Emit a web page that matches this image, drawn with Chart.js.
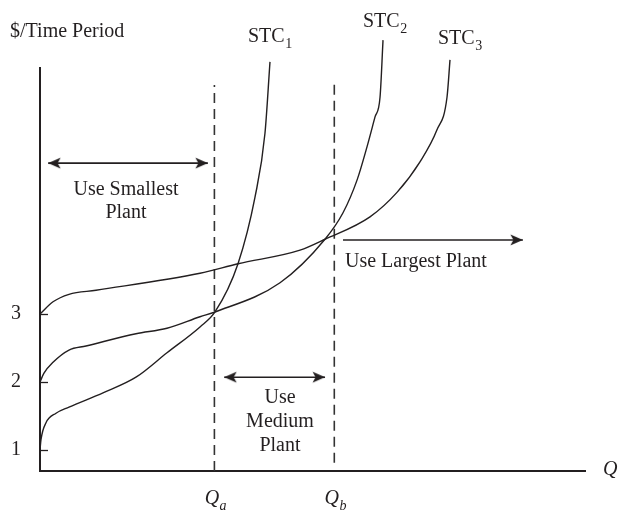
<!DOCTYPE html>
<html>
<head>
<meta charset="utf-8">
<script src="https://cdn.jsdelivr.net/npm/chart.js@4.4.1/dist/chart.umd.min.js"></script>
<style>
  html, body { margin: 0; padding: 0; background: #fff; }
  canvas { display: block; }
</style>
</head>
<body>
<canvas id="costChart" width="620" height="512"></canvas>
<script>
// short-run total cost curves (Q in arbitrary units, 0-100)
const stc1Q    = [0, 0.18, 1.10, 2.94, 5.32, 11.56, 17.61, 23.30, 29.36, 32.11, 36.33, 39.45, 41.28, 42.20];
const stc1Cost = [1.0, 1.15, 1.40, 1.54, 1.63, 1.84, 2.07, 2.43, 2.81, 3.03, 3.74, 4.72, 5.66, 6.71];

const stc2Q    = [0, 0.73, 2.39, 5.32, 8.44, 17.61, 23.30, 29.36, 32.11, 44.04, 52.29, 55.60, 58.17, 60.0, 61.47, 62.39, 62.94];
const stc2Cost = [2.0, 2.13, 2.29, 2.47, 2.53, 2.71, 2.79, 2.96, 3.03, 3.46, 4.10, 4.49, 4.97, 5.46, 5.90, 6.19, 7.03];

const stc3Q    = [0, 2.39, 5.32, 10.28, 29.36, 36.33, 47.71, 52.29, 60.55, 65.50, 69.72, 72.84, 74.68, 75.23];
const stc3Cost = [3.0, 3.18, 3.29, 3.35, 3.60, 3.74, 3.94, 4.10, 4.43, 4.79, 5.24, 5.71, 6.19, 6.74];

const costTicks = [1, 2, 3];

// switch points between plants
const qa = 32;
const qb = 54;
const qaCost = [0.69, 6.37];
const qbCost = [0.81, 6.44];

// "use ... plant" range arrows: [from Q, to Q] at a cost level
const smallQ = [1.5, 30.8];   const smallCost = 5.22;
const mediumQ = [33.8, 52.3]; const mediumCost = 2.07;
const largeQ = [55.6, 88.6];  const largeCost = 4.09;

const ink = '#231f20';
const serif = 'Liberation Serif';

function pts(xs, ys) {
  return xs.map((x, i) => ({x: x, y: ys[i]}));
}

// arrow head with its tip at the centre of the image, pointing up
function makeArrowHead() {
  const c = document.createElement('canvas');
  c.width = 14; c.height = 26;
  const g = c.getContext('2d');
  g.fillStyle = ink;
  g.beginPath();
  g.moveTo(7, 13);
  g.lineTo(12.5, 25.5);
  g.lineTo(7, 22.5);
  g.lineTo(1.5, 25.5);
  g.closePath();
  g.fill();
  return c;
}
const arrowHead = makeArrowHead();

function curve(xs, ys) {
  return {
    data: pts(xs, ys),
    borderColor: ink,
    borderWidth: 1.4,
    pointRadius: 0,
    cubicInterpolationMode: 'monotone',
    clip: false
  };
}

function dashed(q, ys) {
  return {
    data: [{x: q, y: ys[0]}, {x: q, y: ys[1]}],
    borderColor: '#333',
    borderWidth: 1.6,
    borderDash: [10, 6],
    pointRadius: 0
  };
}

function arrow(xs, cost, both) {
  return {
    data: [{x: xs[0], y: cost}, {x: xs[1], y: cost}],
    borderColor: ink,
    borderWidth: 1.6,
    pointStyle: arrowHead,
    pointRadius: both ? [6, 6] : [0, 6],
    pointRotation: [-90, 90]
  };
}

function subText(ctx, main, sub, x, y, italic, align) {
  const style = italic ? 'italic ' : '';
  ctx.font = style + '20px "' + serif + '"';
  const w = ctx.measureText(main).width;
  let left = x;
  if (align === 'center') {
    ctx.font = style + '14px "' + serif + '"';
    left = x - (w + ctx.measureText(sub).width) / 2;
  }
  ctx.textAlign = 'left';
  ctx.font = style + '20px "' + serif + '"';
  ctx.fillText(main, left, y);
  ctx.font = style + '14px "' + serif + '"';
  ctx.fillText(sub, left + w + 0.5, y + 7);
}

const figureText = {
  id: 'figureText',
  afterDraw(chart) {
    const {ctx} = chart;
    const x = chart.scales.x, y = chart.scales.y;
    ctx.save();
    ctx.fillStyle = ink;
    ctx.strokeStyle = ink;
    ctx.textBaseline = 'middle';

    // inward tick marks on the cost axis
    ctx.lineWidth = 1.3;
    costTicks.forEach(v => {
      const py = Math.round(y.getPixelForValue(v)) + 0.5;
      ctx.beginPath();
      ctx.moveTo(x.left, py);
      ctx.lineTo(x.left + 8, py);
      ctx.stroke();
    });

    ctx.font = '20px "' + serif + '"';
    ctx.textAlign = 'left';
    ctx.fillText('$/Time Period', 10, 32);

    subText(ctx, 'STC', '1', 248, 37, false, 'left');
    subText(ctx, 'STC', '2', 363, 22, false, 'left');
    subText(ctx, 'STC', '3', 438, 39, false, 'left');

    ctx.font = '20px "' + serif + '"';
    ctx.textAlign = 'center';
    ctx.fillText('Use Smallest', 126, 190);
    ctx.fillText('Plant', 126, 213);
    ctx.fillText('Use', 280, 398);
    ctx.fillText('Medium', 280, 422);
    ctx.fillText('Plant', 280, 446);
    ctx.textAlign = 'left';
    ctx.fillText('Use Largest Plant', 345, 262);

    ctx.font = 'italic 20px "' + serif + '"';
    ctx.fillText('Q', 603, 470);
    subText(ctx, 'Q', 'a', x.getPixelForValue(qa) + 1, 499, true, 'center');
    subText(ctx, 'Q', 'b', x.getPixelForValue(qb) + 1, 499, true, 'center');
    ctx.restore();
  }
};

new Chart(document.getElementById('costChart'), {
  type: 'line',
  data: {
    datasets: [
      curve(stc1Q, stc1Cost),
      curve(stc2Q, stc2Cost),
      curve(stc3Q, stc3Cost),
      dashed(qa, qaCost),
      dashed(qb, qbCost),
      arrow(smallQ, smallCost, true),
      arrow(mediumQ, mediumCost, true),
      arrow(largeQ, largeCost, false)
    ]
  },
  options: {
    responsive: false,
    animation: false,
    devicePixelRatio: 1,
    layout: { padding: { left: 0, top: 68, right: 35, bottom: 41 } },
    plugins: { legend: { display: false }, tooltip: { enabled: false } },
    scales: {
      x: {
        type: 'linear',
        min: 0,
        max: 100,
        afterFit: s => { s.height = 0; },
        grid: { display: false, drawTicks: false },
        ticks: { display: false },
        border: { display: true, color: ink, width: 2 }
      },
      y: {
        type: 'linear',
        min: 0.69,
        max: 6.62,
        afterFit: s => { s.width = 40; },
        afterBuildTicks: s => { s.ticks = costTicks.map(v => ({value: v})); },
        grid: { display: false, drawTicks: false },
        ticks: { color: ink, padding: 19, font: { family: serif, size: 20 } },
        border: { display: true, color: ink, width: 2 }
      }
    }
  },
  plugins: [figureText]
});
</script>
</body>
</html>
